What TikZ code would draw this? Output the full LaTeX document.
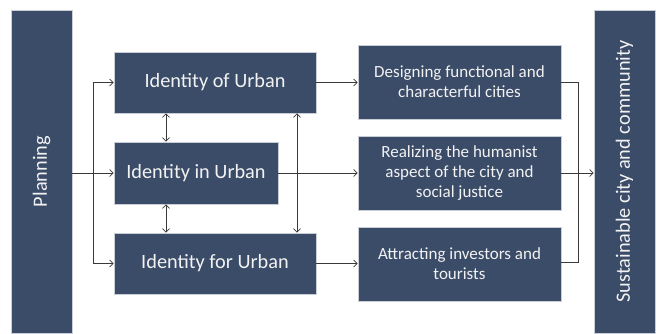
\documentclass[tikz,border=0pt]{standalone}
\usepackage{fontspec}
\setmainfont{Carlito}
\usetikzlibrary{arrows.meta,calc}
\definecolor{boxblue}{HTML}{3B4C68}
\definecolor{boxline}{HTML}{C8CDD6}
\definecolor{linegray}{HTML}{3A3A3A}
\definecolor{txt}{HTML}{F2F2F2}
\begin{document}
\begin{tikzpicture}[x=1pt,y=-1pt,
  box/.style={draw=boxline, line width=0.6pt, fill=boxblue, text=txt, inner sep=0pt, align=center},
  bigtxt/.style={font=\fontsize{20.3}{24}\selectfont},
  smalltxt/.style={font=\fontsize{17}{20}\selectfont},
  conn/.style={draw=linegray, line width=0.8pt},
  arr/.style={conn, -{Straight Barb[length=3.5pt,width=7pt]}},
  darr/.style={conn, {Straight Barb[length=3.5pt,width=7pt]}-{Straight Barb[length=3.5pt,width=7pt]}}
]
\useasboundingbox (0,0) rectangle (660,333);
% side bars
\node[box, bigtxt, minimum width=323pt, minimum height=61pt, rotate=90] (plan) at (41.5,171.5) {Planning};
\node[box, bigtxt, minimum width=323pt, minimum height=61pt, rotate=90] (sus) at (624.5,171.5) {Sustainable city and community};
% identity boxes
\node[box, bigtxt, minimum width=202pt, minimum height=61pt] (of) at (215,82.5) {Identity of Urban};
\node[box, bigtxt, minimum width=164pt, minimum height=62pt] (in) at (196,173) {Identity in Urban};
\node[box, bigtxt, minimum width=202pt, minimum height=61pt] (for) at (215,263.5) {Identity for Urban};
% outcome boxes
\node[box, smalltxt, minimum width=203pt, minimum height=74pt] (des) at (459.5,82) {Designing functional and\\characterful cities};
\node[box, smalltxt, minimum width=203pt, minimum height=74pt] (real) at (459.5,173) {Realizing the humanist\\aspect of the city and\\social justice};
\node[box, smalltxt, minimum width=203pt, minimum height=74pt] (attr) at (459.5,264) {Attracting investors and\\tourists};
% coordinates
\coordinate (lb) at (93,173);
\coordinate (v1) at (166,0);
\coordinate (v2) at (297,0);
\coordinate (rb) at (578,173);
% left connectors
\draw[arr] (in.west -| plan.south) -- (in.west);
\draw[arr] (lb) |- (of.west);
\draw[arr] (lb) |- (for.west);
% vertical double arrows
\draw[darr] (of.south -| v1) -- (in.north -| v1);
\draw[darr] (in.south -| v1) -- (for.north -| v1);
\draw[darr] (of.south -| v2) -- (for.north -| v2);
% middle connectors
\draw[arr] (of.east) -- (des.west |- of.east);
\draw[arr] (in.east) -- (real.west |- in.east);
\draw[arr] (for.east) -- (attr.west |- for.east);
% right bus
\draw[conn] (des.east |- of.east) -| (rb);
\draw[conn] ($(attr.east)+(0,-2)$) -| (rb);
\draw[arr] (real.east) -- (sus.north |- real.east);
\end{tikzpicture}
\end{document}
